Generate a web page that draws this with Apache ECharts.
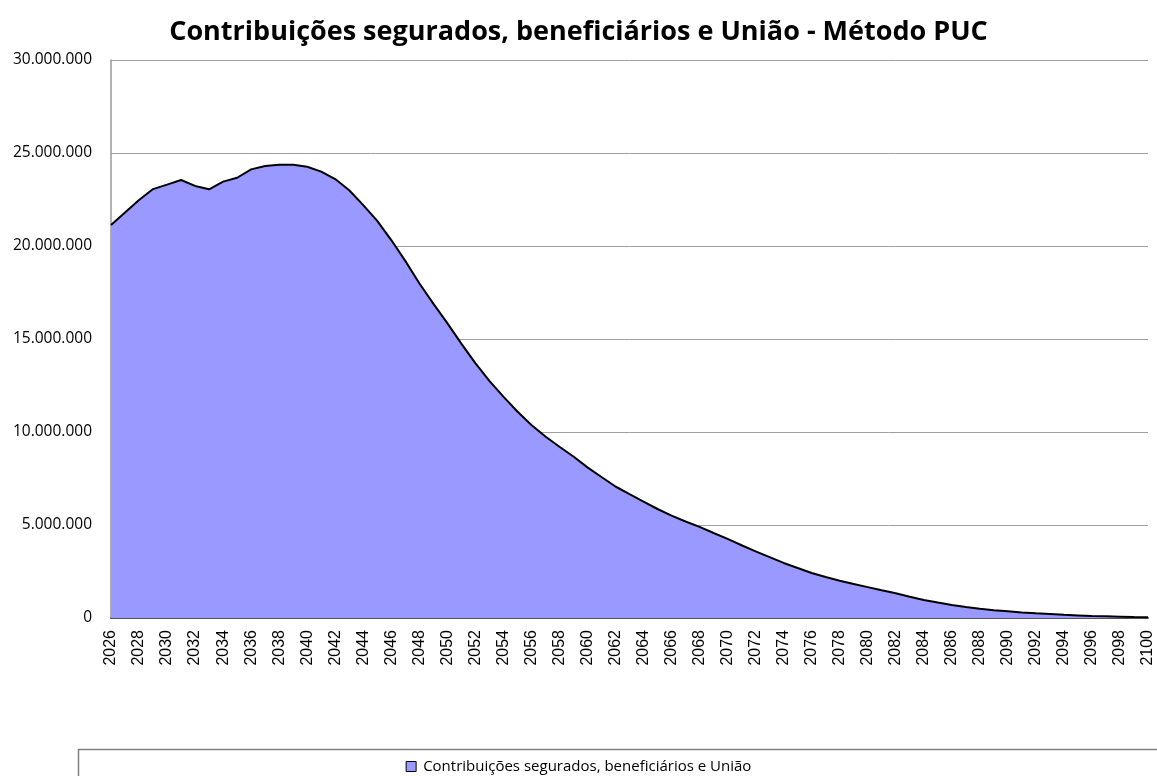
<!DOCTYPE html>
<html>
<head>
<meta charset="utf-8">
<script src="https://cdn.jsdelivr.net/npm/echarts@6/dist/echarts.min.js"></script>
<style>html,body{margin:0;padding:0;background:#fff;}#c{width:1157px;height:776px;}</style>
</head>
<body>
<div id="c"></div>
<script>
const titleText = 'Contribuições segurados, beneficiários e União - Método PUC';
const seriesName = 'Contribuições segurados, beneficiários e União';
const years = [];
for (let y = 2026; y <= 2100; y++) years.push(String(y));
// values in millions
const valuesM = [
  21.13, 21.8, 22.47, 23.06, 23.3, 23.55, 23.23, 23.05, 23.46, 23.67,
  24.12, 24.3, 24.37, 24.37, 24.26, 24.0, 23.6, 23.0, 22.2, 21.35,
  20.32, 19.2, 18.0, 16.9, 15.85, 14.75, 13.7, 12.75, 11.9, 11.1,
  10.38, 9.76, 9.21, 8.68, 8.1, 7.58, 7.07, 6.66, 6.26, 5.86,
  5.5, 5.19, 4.9, 4.57, 4.25, 3.91, 3.58, 3.27, 2.96, 2.69,
  2.42, 2.2, 2.0, 1.83, 1.66, 1.49, 1.33, 1.14, 0.97, 0.83,
  0.70, 0.59, 0.50, 0.42, 0.36, 0.30, 0.25, 0.21, 0.17, 0.14,
  0.11, 0.09, 0.07, 0.05, 0.04
];
const values = valuesM.map(v => Math.round(v * 1e6));
const yTicks = [0, 5000000, 10000000, 15000000, 20000000, 25000000, 30000000];

function fmt(v) {
  return String(v).replace(/\B(?=(\d{3})+(?!\d))/g, '.');
}

const chart = echarts.init(document.getElementById('c'), null, {renderer: 'canvas'});
chart.setOption({
  animation: false,
  backgroundColor: '#ffffff',
  title: {
    text: titleText,
    left: 'center',
    top: 14,
    textStyle: {fontFamily: 'Open Sans', fontWeight: 'bold', fontSize: 27, color: '#000'}
  },
  grid: {left: 111, right: 9, top: 60, bottom: 158, containLabel: false},
  xAxis: {
    type: 'category',
    data: years,
    boundaryGap: false,
    axisLine: {lineStyle: {color: '#555555', width: 2}},
    axisTick: {show: false},
    axisLabel: {
      rotate: 90,
      interval: 1,
      margin: 12,
      fontFamily: 'Liberation Sans',
      fontSize: 16,
      color: '#000'
    },
    splitLine: {show: false}
  },
  yAxis: {
    type: 'value',
    min: yTicks[0],
    max: yTicks[yTicks.length - 1],
    interval: 5000000,
    axisLine: {show: true, lineStyle: {color: '#999999', width: 1.5}},
    axisTick: {show: false},
    axisLabel: {
      margin: 19,
      fontFamily: 'Open Sans',
      fontSize: 15.5,
      color: '#000',
      formatter: v => fmt(v)
    },
    splitLine: {lineStyle: {color: '#a0a0a0', width: 1}}
  },
  legend: {
    data: [seriesName],
    left: 'center',
    top: 754,
    icon: 'rect',
    itemWidth: 10,
    itemHeight: 10,
    itemGap: 4,
    textStyle: {fontFamily: 'Open Sans', fontSize: 15, color: '#000', padding: [0, 0, 0, 2]},
    itemStyle: {color: '#9999FF', borderColor: '#000', borderWidth: 1}
  },
  graphic: [{
    type: 'rect',
    left: 76,
    top: 747,
    shape: {width: 1200, height: 100},
    style: {fill: 'none', stroke: '#808080', lineWidth: 1.5},
    silent: true
  }],
  series: [{
    name: seriesName,
    type: 'line',
    data: values,
    smooth: false,
    symbol: 'none',
    lineStyle: {color: '#000000', width: 2},
    itemStyle: {color: '#9999FF'},
    areaStyle: {color: '#9999FF', opacity: 1}
  }]
});
</script>
</body>
</html>
